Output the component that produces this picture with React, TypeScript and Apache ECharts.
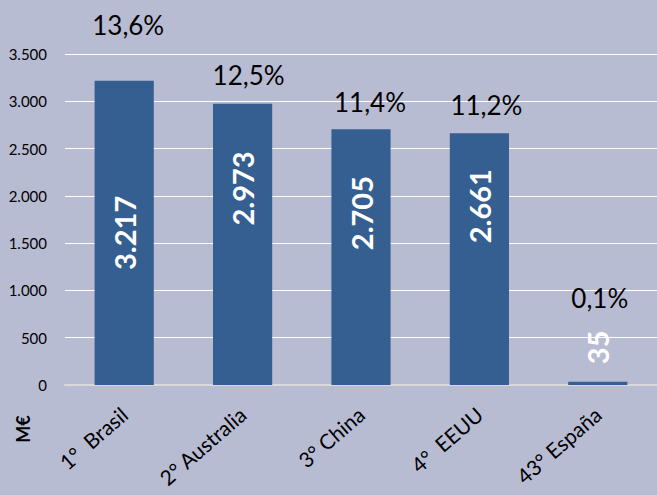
import React, { useEffect, useRef } from "react";
import * as echarts from "echarts";

const categories = ["1°  Brasil", "2° Australia", "3° China", "4°  EEUU", "43° España"];
const values = [3217, 2973, 2705, 2661, 35];
const shares = ["13,6%", "12,5%", "11,4%", "11,2%", "0,1%"];
const yTicks = { min: 0, max: 3500, interval: 500 };

// label placement tweaks (styling only; offsets of rotated labels are in their own frame)
const valueLabelOffsets = [[0, 0], [56, 0], [44, 0], [53, 0], [36, 0]];
const shareLabelOffsets = [[4, -38], [6, -11], [9, -9], [7, -10], [2, -66]];

const FONT = "Lato, 'Open Sans', sans-serif";

const fmt = (v: number) => v.toString().replace(/\B(?=(\d{3})+(?!\d))/g, ".");

export default function App() {
  const ref = useRef<HTMLDivElement>(null);
  useEffect(() => {
    if (!ref.current) return;
    const chart = echarts.init(ref.current, undefined, { renderer: "svg" });
    chart.setOption({
      animation: false,
      backgroundColor: "#b8bcd3",
      grid: { left: 65, right: 0, top: 54, bottom: 110 },
      xAxis: {
        type: "category",
        data: categories,
        axisLine: { show: true, lineStyle: { color: "#d9d9d9", width: 2 } },
        axisTick: { show: false },
        axisLabel: {
          rotate: 41,
          interval: 0,
          color: "#000",
          fontFamily: FONT,
          fontSize: 21,
          margin: 26,
        },
      },
      yAxis: {
        type: "value",
        min: yTicks.min,
        max: yTicks.max,
        interval: yTicks.interval,
        axisLine: { show: false },
        axisTick: { show: false },
        splitLine: { lineStyle: { color: "#ffffff", width: 1 } },
        axisLabel: {
          color: "#000",
          fontFamily: FONT,
          fontSize: 15,
          margin: 18,
          formatter: (v: number) => fmt(v),
        },
      },
      graphic: [
        {
          type: "group",
          x: 23,
          y: 429,
          rotation: Math.PI / 2,
          children: [
            {
              type: "text",
              x: 0,
              y: 0,
              style: {
                text: "M€",
                fill: "#000",
                font: `bold 18px ${FONT}`,
                align: "center",
                verticalAlign: "middle",
              },
            },
          ],
        },
      ],
      series: [
        {
          type: "bar",
          barWidth: "50%",
          data: values.map((v, i) => ({
            value: v,
            label: { offset: valueLabelOffsets[i] },
          })),
          itemStyle: { color: "#355f91" },
          label: {
            show: true,
            position: "inside",
            rotate: 90,
            color: "#ffffff",
            fontFamily: FONT,
            fontWeight: "bold",
            fontSize: 29,
            formatter: (p: any) => fmt(p.value),
          },
          z: 2,
        },
        {
          type: "bar",
          barWidth: "50%",
          barGap: "-100%",
          silent: true,
          data: values.map((v, i) => ({
            value: v,
            label: { offset: shareLabelOffsets[i] },
          })),
          itemStyle: { color: "transparent" },
          label: {
            show: true,
            position: "top",
            color: "#000",
            fontFamily: FONT,
            fontSize: 26,
            formatter: (p: any) => shares[p.dataIndex],
          },
          z: 3,
        },
      ],
    });
    return () => chart.dispose();
  }, []);
  return (
    <div
      ref={ref}
      style={{ position: "fixed", left: 0, top: 0, width: 657, height: 495 }}
    />
  );
}
